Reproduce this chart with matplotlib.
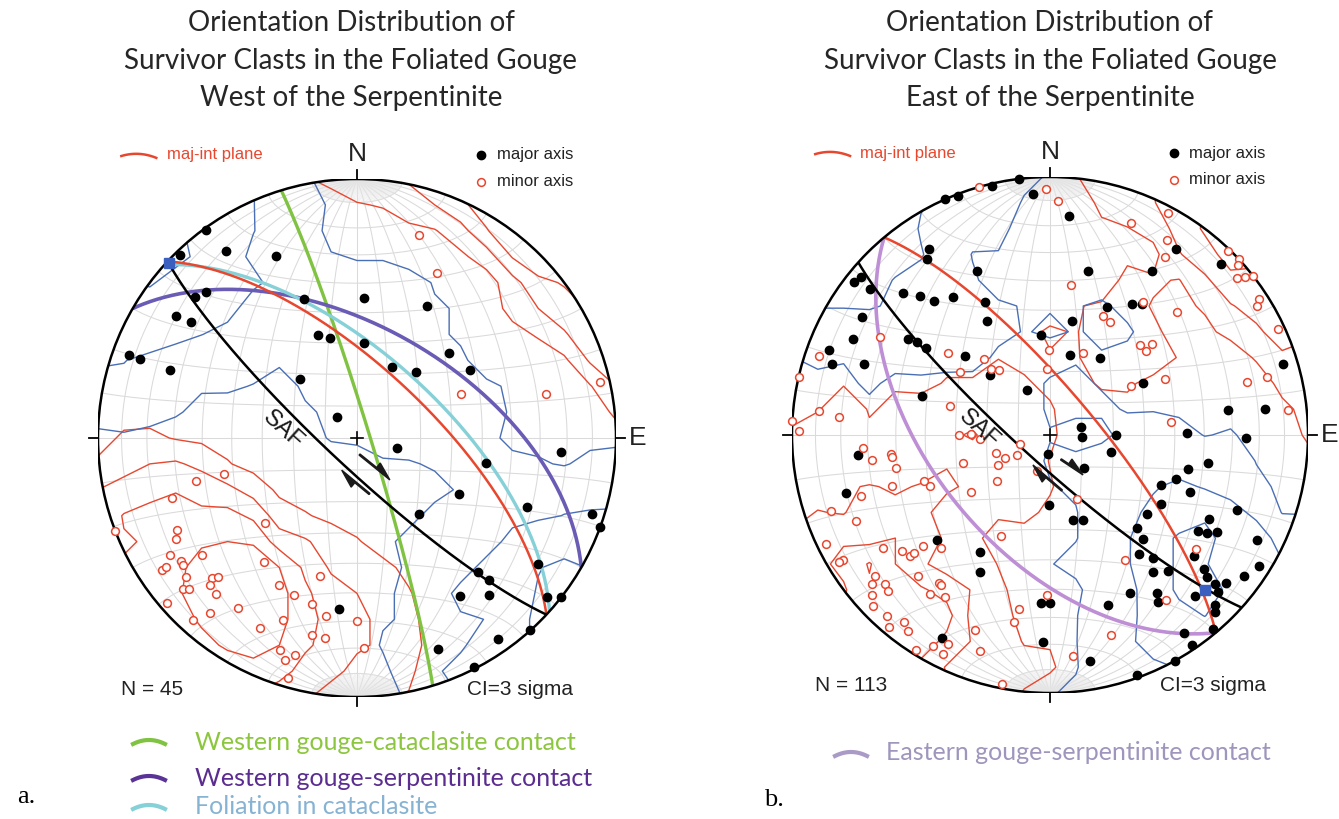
import numpy as np
import matplotlib.pyplot as plt
from matplotlib.patches import Circle

plt.rcParams['font.family'] = ['Liberation Sans', 'DejaVu Sans']

W, H = 1339, 819

# clast axes as (trend, plunge) in degrees, lower hemisphere
west_major = [(324, 1), (316, 2), (325, 13), (336, 24), (314, 20), (311, 18), (304, 17), (305, 23), (290, 7), (290, 12),
              (290, 24), (339, 42), (3, 45), (28, 42), (339, 55), (345, 57), (4, 60), (47, 50), (59, 48), (26, 65),
              (42, 62), (316, 64), (316, 81), (104, 77), (94, 22), (101, 48), (119, 53), (141, 59), (112, 30), (108, 5),
              (110, 0), (125, 16), (138, 31), (137, 26), (147, 28), (140, 22), (130, 5), (128, 0), (186, 34), (138, 0),
              (145, 6), (159, 14), (153, 1)]
west_minor = [(17, 19), (26, 30), (67, 54), (77, 26), (77, 4), (255, 46), (255, 36), (252, 26), (249, 0), (243, 23),
              (241, 21), (227, 50), (238, 16), (236, 10), (236, 12), (235, 18), (234, 18), (233, 26), (217, 40), (195, 44),
              (231, 16), (226, 23), (225, 25), (225, 21), (229, 12), (228, 14), (208, 36), (222, 20), (202, 35), (229, 3),
              (220, 13), (215, 21), (195, 34), (190, 31), (202, 25), (180, 30), (222, 6), (207, 19), (193, 23), (189, 23),
              (200, 14), (178, 20), (196, 14), (198, 11), (196, 4)]
east_major = [(353, 0), (347, 1), (336, 0), (339, 1), (356, 7), (5, 16), (327, 15), (325, 18), (310, 5), (308, 4),
              (309, 11), (336, 31), (314, 22), (317, 27), (319, 32), (325, 35), (334, 42), (331, 48), (302, 15), (296, 16),
              (291, 9), (288, 12), (291, 24), (304, 34), (305, 37), (305, 41), (313, 53), (315, 63), (287, 47), (333, 74),
              (355, 58), (11, 53), (14, 64), (13, 35), (32, 26), (33, 61), (24, 45), (32, 40), (35, 38), (61, 56),
              (34, 14), (45, 7), (73, 6), (82, 31), (83, 17),
              (76, 80), (94, 80), (90, 69), (89, 46), (91, 25), (106, 70), (187, 84), (134, 75), (100, 38), (104, 44),
              (109, 47), (114, 51), (112, 41), (122, 48), (181, 68), (165, 62), (159, 61), (129, 50), (112, 23), (118, 31),
              (137, 49), (123, 32), (122, 29), (120, 26), (138, 45), (117, 11), (143, 42), (140, 38), (130, 28), (122, 5),
              (143, 34), (139, 31), (131, 22), (132, 19), (132, 15), (130, 12), (126, 8), (133, 12), (138, 17), (153, 32),
              (146, 27), (147, 24), (136, 9), (137, 7), (140, 2), (146, 8), (146, 2), (151, 0), (160, 1), (170, 12),
              (182, 21), (183, 35), (180, 35), (161, 31), (211, 46), (207, 40), (227, 40), (208, 12), (264, 26), (254, 19)]
east_minor = [(344, 0), (359, 5), (2, 10), (28, 3), (21, 13), (31, 13), (33, 19), (44, 1), (47, 0), (48, 2),
              (50, 6), (51, 3), (52, 0), (57, 4), (58, 6), (65, 3), (46, 32), (35, 37), (24, 48), (28, 49),
              (8, 41), (45, 49), (48, 46), (49, 49), (359, 63), (22, 62), (357, 69), (64, 49), (59, 60), (75, 22),
              (75, 14), (84, 8), (84, 51), (300, 25), (289, 6), (309, 48), (319, 58), (318, 62), (322, 64), (305, 55),
              (283, 0), (286, 57), (276, 11), (275, 19), (273, 0), (271, 3),
              (270, 61), (271, 65), (267, 68), (253, 80), (266, 28), (262, 31), (263, 38), (262, 38), (258, 39), (252, 72),
              (239, 78), (243, 74), (252, 61), (240, 71), (229, 68), (200, 78), (250, 47), (247, 48), (252, 36), (252, 24),
              (234, 59), (157, 68), (251, 11), (246, 19), (206, 54), (244, 4), (236, 23), (232, 28), (229, 29), (229, 31),
              (229, 35), (224, 39), (239, 7), (239, 5), (149, 43), (231, 14), (230, 11), (228, 15), (223, 26), (217, 29),
              (216, 29), (228, 8), (226, 14), (217, 24), (213, 26), (226, 5), (222, 6), (218, 9), (220, 3), (216, 7),
              (201, 20), (206, 11), (209, 7), (206, 6), (212, 2), (198, 13), (190, 32), (181, 38), (191, 27), (163, 20),
              (174, 15), (145, 23), (191, 2), (128, 29)]

# planes as (strike, dip), right-hand rule
west_saf = (133, 81)
west_majint = (313, 68)
west_cataclasite = (343, 86)
west_serpentinite = (300, 55)
west_foliation = (312, 64)
east_saf = (132, 81)
east_majint = (320, 76)
east_serpentinite = (140, 53)

# mean orientation markers (trend, plunge)
west_square = (313, 1)
east_square = (135, 16)

RED = '#e8472f'
BLUE = '#4a6fb5'
GRID = '#dadada'


def project(trend, plunge):
    t = np.radians(trend)
    p = np.radians(plunge)
    r = np.sqrt(2) * np.sin((np.pi / 2 - p) / 2)
    return r * np.sin(t), r * np.cos(t)


def plane_xy(strike, dip, n=300):
    s = np.radians(strike)
    d = np.radians(dip)
    a = np.linspace(0, np.pi, n)
    sv = np.array([np.sin(s), np.cos(s), 0.0])
    dv = np.array([np.cos(d) * np.sin(s + np.pi / 2), np.cos(d) * np.cos(s + np.pi / 2), -np.sin(d)])
    v = np.outer(np.cos(a), sv) + np.outer(np.sin(a), dv)
    h = np.hypot(v[:, 0], v[:, 1])
    rr = np.sqrt(1 - np.abs(v[:, 2]))
    return rr * v[:, 0] / h, rr * v[:, 1] / h


def schmidt(lam, phi):
    k = np.sqrt(1 / (1 + np.cos(phi) * np.cos(lam)))
    return k * np.cos(phi) * np.sin(lam), k * np.sin(phi)


def kamb(pairs, n=21):
    tp = np.radians(np.array(pairs, dtype=float))
    t, p = tp[:, 0], tp[:, 1]
    data = np.column_stack([np.cos(p) * np.sin(t), np.cos(p) * np.cos(t), -np.sin(p)])
    N = len(data)
    A = 9.0 / (N + 9)
    sig = np.sqrt(N * A * (1 - A))
    g = np.linspace(-1, 1, n)
    X, Y = np.meshgrid(g, g)
    r = np.hypot(X, Y)
    rr = np.minimum(r, 1)
    u = rr ** 2 - 1
    h = np.sqrt(1 - u ** 2)
    ang = np.arctan2(X, Y)
    nodes = np.stack([h * np.sin(ang), h * np.cos(ang), u], axis=-1)
    dots = np.abs(nodes @ data.T)
    count = (dots >= 1 - A).sum(axis=-1)
    return X, Y, count / sig


def stereonet(cx, cy, R):
    ax = fig.add_axes([(cx - R) / W, 1 - (cy + R) / H, 2 * R / W, 2 * R / H])
    ax.set_xlim(-1, 1)
    ax.set_ylim(-1, 1)
    ax.axis('off')
    clip = Circle((0, 0), 1, transform=ax.transData)

    phi = np.radians(np.linspace(-90, 90, 181))
    for lam in range(-80, 90, 10):
        x, y = schmidt(np.radians(lam), phi)
        ax.plot(x, y, color=GRID, lw=0.75, zorder=1)
    lam = np.radians(np.linspace(-90, 90, 181))
    for ph in range(-80, 90, 10):
        x, y = schmidt(lam, np.radians(ph))
        ax.plot(x, y, color=GRID, lw=0.75, zorder=1)
    # close-spaced meridians around N and S
    for lm in range(-88, 90, 2):
        for sgn in (1, -1):
            x, y = schmidt(np.radians(lm), sgn * np.radians(np.linspace(80, 90, 15)))
            ax.plot(x, y, color='#e6e6e6', lw=0.35, zorder=1)

    ax.add_patch(Circle((0, 0), 1, fill=False, ec='black', lw=1.8, zorder=6))
    tk = 0.035
    ax.plot([0, 0], [1, 1 + tk], color='black', lw=1.3, clip_on=False)
    ax.plot([0, 0], [-1, -1 - tk], color='black', lw=1.3, clip_on=False)
    ax.plot([1, 1 + tk], [0, 0], color='black', lw=1.3, clip_on=False)
    ax.plot([-1, -1 - tk], [0, 0], color='black', lw=1.3, clip_on=False)
    ax.plot([-0.022, 0.022], [0, 0], color='black', lw=1.2, zorder=7)
    ax.plot([0, 0], [-0.022, 0.022], color='black', lw=1.2, zorder=7)

    ax.text(0, 1.095, 'N', ha='center', va='center', fontsize=19, color='#222222')
    ax.text(1.085, 0, 'E', ha='center', va='center', fontsize=19, color='#222222')
    return ax, clip


def contours(ax, clip, pairs, color):
    X, Y, Z = kamb(pairs)
    cs = ax.contour(X, Y, Z, levels=[3, 6, 9, 12, 15], colors=color, linewidths=1.0, zorder=2)
    cs.set_clip_path(clip)


def great_circle(ax, clip, plane, color, lw):
    x, y = plane_xy(*plane)
    ln, = ax.plot(x, y, color=color, lw=lw, zorder=4, solid_capstyle='butt')
    ln.set_clip_path(clip)


def points(ax, major, minor):
    mt, mp = np.array(major, dtype=float).T
    x, y = project(mt, mp)
    ax.plot(x, y, 'o', ms=6.0, mfc='black', mec='black', zorder=8, clip_on=False)
    nt, np_ = np.array(minor, dtype=float).T
    x, y = project(nt, np_)
    ax.plot(x, y, 'o', ms=5.6, mfc='white', mec=RED, mew=1.1, zorder=8, clip_on=False)


def key(ax, n_label):
    xs = np.linspace(-0.91, -0.775, 20)
    ax.plot(xs, 1.093 - 0.012 * ((xs + 0.843) / 0.068) ** 2 + 0.004 - 0.05 * (xs + 0.843),
            color=RED, lw=1.8, clip_on=False)
    ax.text(-0.735, 1.093, 'maj-int plane', ha='left', va='center', fontsize=12, color=RED)
    ax.plot([0.48], [1.093], 'o', ms=6.0, color='black', clip_on=False)
    ax.text(0.54, 1.093, 'major axis', ha='left', va='center', fontsize=12, color='#222222')
    ax.plot([0.48], [0.99], 'o', ms=5.6, mfc='white', mec=RED, mew=1.1, clip_on=False)
    ax.text(0.54, 0.99, 'minor axis', ha='left', va='center', fontsize=12, color='#222222')
    ax.text(-0.91, -0.97, n_label, ha='left', va='center', fontsize=15, color='#222222')
    ax.text(0.425, -0.97, 'CI=3 sigma', ha='left', va='center', fontsize=15, color='#222222')


def fault_label(ax, x, y, a1, a2):
    ax.text(x, y, 'SAF', rotation=-42, ha='center', va='center', fontsize=17,
            color='#1a1a1a', zorder=9)
    for (x0, y0, x1, y1) in (a1, a2):
        ax.arrow(x0, y0, x1 - x0, y1 - y0, width=0.011, head_width=0.055, head_length=0.07,
                 shape='right', length_includes_head=True, color='#1a1a1a', zorder=9)


fig = plt.figure(figsize=(W / 100, H / 100), dpi=100)

# west panel
axw, clw = stereonet(357, 438, 259)
contours(axw, clw, west_minor, RED)
contours(axw, clw, west_major, BLUE)
great_circle(axw, clw, west_cataclasite, '#80c342', 2.4)
great_circle(axw, clw, west_serpentinite, '#6a5bb5', 2.6)
great_circle(axw, clw, west_foliation, '#86d0d8', 2.4)
great_circle(axw, clw, west_majint, RED, 1.8)
great_circle(axw, clw, west_saf, 'black', 1.8)
points(axw, west_major, west_minor)
sx, sy = project(*west_square)
axw.plot([sx], [sy], 's', ms=7, color='#3a5fbf', zorder=9, clip_on=False)
key(axw, 'N = 45')
fault_label(axw, -0.285, 0.03, (0.008, -0.066, 0.127, -0.162), (0.05, -0.214, -0.059, -0.124))

# east panel
axe, cle = stereonet(1050, 435, 258)
contours(axe, cle, east_minor, RED)
contours(axe, cle, east_major, BLUE)
great_circle(axe, cle, east_serpentinite, '#bf8fd6', 2.6)
great_circle(axe, cle, east_majint, RED, 1.8)
great_circle(axe, cle, east_saf, 'black', 1.8)
points(axe, east_major, east_minor)
sx, sy = project(*east_square)
axe.plot([sx], [sy], 's', ms=7, color='#3a5fbf', zorder=9, clip_on=False)
key(axe, 'N = 113')
fault_label(axe, -0.275, 0.025, (0.041, -0.097, 0.128, -0.155), (0.048, -0.213, -0.066, -0.116))

# titles, legends and panel letters in pixel space
over = fig.add_axes([0, 0, 1, 1], zorder=-1)
over.set_xlim(0, W)
over.set_ylim(H, 0)
over.axis('off')

title_font = ['Lato', 'DejaVu Sans']
for cx, last in ((351, 'West of the Serpentinite'), (1050, 'East of the Serpentinite')):
    for y, line in ((23, 'Orientation Distribution of'), (61, 'Survivor Clasts in the Foliated Gouge'), (98, last)):
        over.text(cx, y, line, ha='center', va='center', fontsize=20, family=title_font, color='#262626')

legend_rows = [(742, 'Western gouge-cataclasite contact', '#80c342', '#8cc63f'),
               (778, 'Western gouge-serpentinite contact', '#5a3396', '#5b2d90'),
               (807, 'Foliation in cataclasite', '#86d0d8', '#87b3d3')]
for y, label, lc, tc in legend_rows:
    xs = np.linspace(133, 165, 20)
    over.plot(xs, y + 4 * ((xs - 149) / 16) ** 2 - 2, color=lc, lw=3)
    over.text(195, y, label, ha='left', va='center', fontsize=18, family=title_font, color=tc)

xs = np.linspace(835, 867, 20)
over.plot(xs, 754 + 4 * ((xs - 851) / 16) ** 2 - 2, color='#a99bc6', lw=3)
over.text(886, 753, 'Eastern gouge-serpentinite contact', ha='left', va='center', fontsize=18,
          family=title_font, color='#9f95bd')

over.text(17, 797, 'a.', ha='left', va='center', fontsize=19, family=['Liberation Serif', 'DejaVu Serif'])
over.text(764, 800, 'b.', ha='left', va='center', fontsize=19, family=['Liberation Serif', 'DejaVu Serif'])

fig.savefig('out.png', dpi=100)
